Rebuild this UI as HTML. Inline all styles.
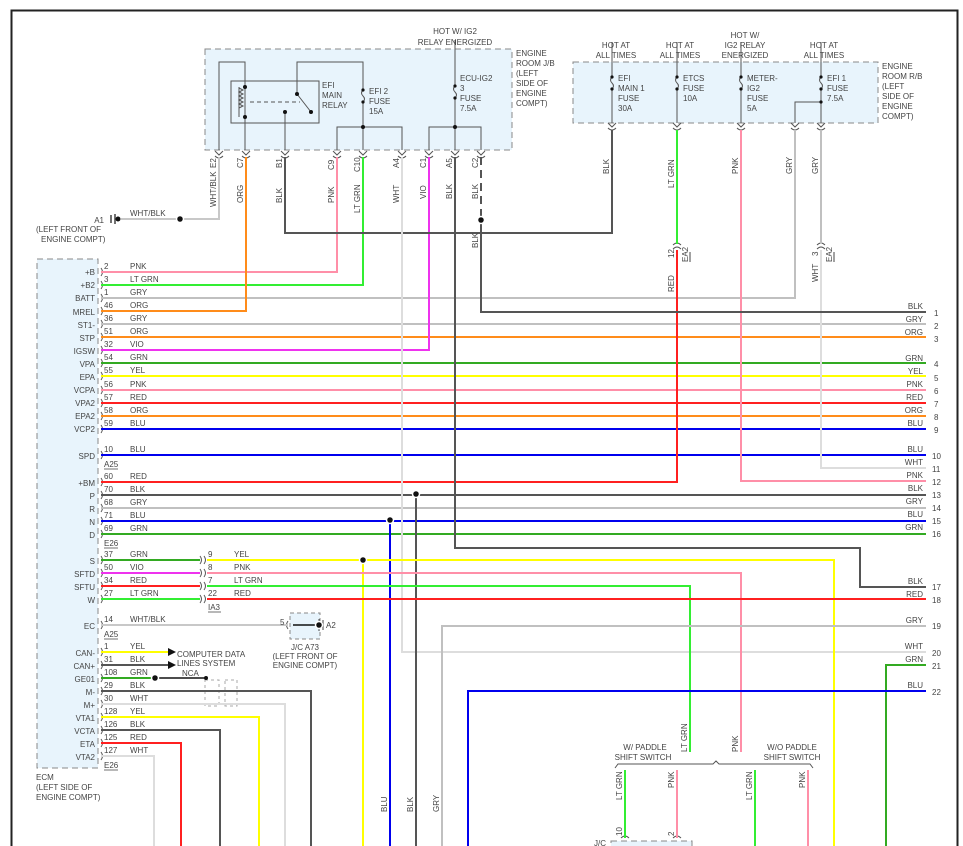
<!DOCTYPE html>
<html><head><meta charset="utf-8"><style>
html,body{margin:0;padding:0;background:#fff}
svg{display:block}
text{font-family:"Liberation Sans",sans-serif;font-size:8px;fill:#444}
</style></head><body>
<svg width="963" height="846" viewBox="0 0 963 846" xmlns="http://www.w3.org/2000/svg">
<rect width="963" height="846" fill="#fff"/>
<path d="M11.5 846 V10.5 H957.5 V846" fill="none" stroke="#222" stroke-width="2"/>

<rect x="205" y="49" width="307" height="101" fill="#e8f4fc" stroke="#888" stroke-dasharray="6,4"/>
<rect x="573" y="62" width="305" height="61" fill="#e8f4fc" stroke="#888" stroke-dasharray="6,4"/>
<rect x="37" y="259" width="61" height="509" fill="#e8f4fc" stroke="#888" stroke-dasharray="6,4"/>
<rect x="290" y="613" width="30" height="26" fill="#e8f4fc" stroke="#888" stroke-dasharray="4,3"/>
<rect x="611" y="841" width="81" height="10" fill="#e8f4fc" stroke="#888" stroke-dasharray="6,4"/>
<rect x="205" y="680" width="14" height="26" fill="none" stroke="#aaa" stroke-dasharray="3,3"/>
<rect x="225" y="680" width="12" height="26" fill="none" stroke="#aaa" stroke-dasharray="3,3"/>

<g fill="none" stroke="#555" stroke-width="1">
<rect x="231" y="81" width="88" height="42"/>
<path d="M219 150 V62 H245 V150"/>
<path d="M245 87 V117 M239 87 V117"/>
<path d="M239 88 l4 2 -4 2 4 2 -4 2 4 2 -4 2 4 2 -4 2 4 2 -4 2"/>
<path d="M250 102 H300" stroke-dasharray="4,3"/>
<path d="M297 94 L311 112"/>
<path d="M285 112 V150"/>
<path d="M297 94 V62 H363 V90"/>
<path d="M363 90 q-3 3 0 6 q3 3 0 6 M363 102 V127"/>
<path d="M337 150 V127 H402 V150 M363 127 V150"/>
<path d="M455 40 V86 M455 86 q-3 3 0 6 q3 3 0 6 M455 98 V127"/>
<path d="M429 150 V127 H481 V150 M455 127 V150"/>
<path d="M612 42 V77 M612 77 q-3 3 0 6 q3 3 0 6 M612 89 V123"/>
<path d="M677 42 V77 M677 77 q-3 3 0 6 q3 3 0 6 M677 89 V123"/>
<path d="M741 42 V77 M741 77 q-3 3 0 6 q3 3 0 6 M741 89 V123"/>
<path d="M821 42 V77 M821 77 q-3 3 0 6 q3 3 0 6 M821 89 V123"/>
<path d="M795 123 V102 H821"/>
</g>
<g fill="#111">
<circle cx="245" cy="87" r="2"/><circle cx="245" cy="117" r="2"/><circle cx="297" cy="94" r="2"/><circle cx="311" cy="112" r="2"/><circle cx="285" cy="112" r="2"/>
<circle cx="363" cy="90" r="1.6"/><circle cx="363" cy="102" r="1.6"/><circle cx="363" cy="127" r="2"/><circle cx="455" cy="127" r="2"/><circle cx="455" cy="86" r="1.6"/><circle cx="455" cy="98" r="1.6"/>
<circle cx="612" cy="77" r="1.6"/><circle cx="612" cy="89" r="1.6"/><circle cx="677" cy="77" r="1.6"/><circle cx="677" cy="89" r="1.6"/><circle cx="741" cy="77" r="1.6"/><circle cx="741" cy="89" r="1.6"/><circle cx="821" cy="77" r="1.6"/><circle cx="821" cy="89" r="1.6"/><circle cx="821" cy="102" r="1.6"/>
</g>

<g fill="none" stroke="#555" stroke-width="1">
<path d="M215 151 l4 4 4-4 M215 156 q4 4 8 0 M242 151 l4 4 4-4 M242 156 q4 4 8 0 M281 151 l4 4 4-4 M281 156 q4 4 8 0 M333 151 l4 4 4-4 M333 156 q4 4 8 0 M359 151 l4 4 4-4 M359 156 q4 4 8 0 M398 151 l4 4 4-4 M398 156 q4 4 8 0 M425 151 l4 4 4-4 M425 156 q4 4 8 0 M451 151 l4 4 4-4 M451 156 q4 4 8 0 M477 151 l4 4 4-4 M477 156 q4 4 8 0"/>
<path d="M608 123 l4 4 4-4 M608 128 q4 4 8 0 M673 123 l4 4 4-4 M673 128 q4 4 8 0 M737 123 l4 4 4-4 M737 128 q4 4 8 0 M791 123 l4 4 4-4 M791 128 q4 4 8 0 M817 123 l4 4 4-4 M817 128 q4 4 8 0"/>
<path d="M673 245 q4 -4 8 0 M673 249 q4 -4 8 0 M817 245 q4 -4 8 0 M817 249 q4 -4 8 0"/>
<path d="M101 268 q3 4 0 8 M101 281 q3 4 0 8 M101 294 q3 4 0 8 M101 307 q3 4 0 8 M101 320 q3 4 0 8 M101 333 q3 4 0 8 M101 346 q3 4 0 8 M101 359 q3 4 0 8 M101 372 q3 4 0 8 M101 386 q3 4 0 8 M101 399 q3 4 0 8 M101 412 q3 4 0 8 M101 425 q3 4 0 8 M101 451 q3 4 0 8 M101 478 q3 4 0 8 M101 491 q3 4 0 8 M101 504 q3 4 0 8 M101 517 q3 4 0 8 M101 530 q3 4 0 8 M101 556 q3 4 0 8 M101 569 q3 4 0 8 M101 582 q3 4 0 8 M101 595 q3 4 0 8 M101 621 q3 4 0 8 M101 648 q3 4 0 8 M101 661 q3 4 0 8 M101 674 q3 4 0 8 M101 687 q3 4 0 8 M101 700 q3 4 0 8 M101 713 q3 4 0 8 M101 726 q3 4 0 8 M101 739 q3 4 0 8 M101 752 q3 4 0 8"/>
<path d="M200 556 q3 4 0 8 M204 556 q3 4 0 8 M200 569 q3 4 0 8 M204 569 q3 4 0 8 M200 582 q3 4 0 8 M204 582 q3 4 0 8 M200 595 q3 4 0 8 M204 595 q3 4 0 8"/>
<path d="M288 621 q-3 4 0 8 M621 838 q4 -4 8 0 M673 838 q4 -4 8 0"/>
</g>
<path d="M111 215 V223 M115 214 V224" stroke="#444" stroke-width="1.5"/><circle cx="118" cy="219" r="2.5" fill="#111"/>

<g fill="none" stroke-width="2">
<path d="M101 272 H337 V157" stroke="#ff8fa8"/>
<path d="M101 285 H363 V157" stroke="#33ee33"/>
<path d="M101 298 H795 V130" stroke="#c0c0c0"/>
<path d="M101 311 H246 V157" stroke="#ff8c1a"/>
<path d="M101 324 H926" stroke="#c0c0c0"/>
<path d="M101 337 H926" stroke="#ff8c1a"/>
<path d="M101 350 H429 V157" stroke="#ee33ee"/>
<path d="M101 363 H926" stroke="#33aa22"/>
<path d="M101 376 H926" stroke="#ffff00"/>
<path d="M101 390 H926" stroke="#ff8fa8"/>
<path d="M101 403 H926" stroke="#ff2020"/>
<path d="M101 416 H926" stroke="#ff8c1a"/>
<path d="M101 429 H926" stroke="#0000ee"/>
<path d="M101 455 H926" stroke="#0000ee"/>
<path d="M101 482 H677 V250" stroke="#ff2020"/>
<path d="M677 130 V244" stroke="#33ee33"/>
<path d="M741 130 V481 H926" stroke="#ff8fa8"/>
<path d="M821 130 V244" stroke="#c0c0c0"/>
<path d="M821 250 V468 H926" stroke="#ddd"/>
<path d="M101 495 H926" stroke="#555"/>
<path d="M101 508 H926" stroke="#c0c0c0"/>
<path d="M101 521 H926" stroke="#0000ee"/>
<path d="M101 534 H926" stroke="#33aa22"/>
<path d="M612 130 V233 H285 V157" stroke="#555"/>
<path d="M481 157 V220" stroke="#555" stroke-dasharray="8,5"/>
<path d="M481 220 V312 H926" stroke="#555"/>
<path d="M455 157 V548 H860 V587 H926" stroke="#555"/>
<path d="M402 157 V652 H926" stroke="#ddd"/>
<path d="M219 157 V219 H121" stroke="#c8c8c8"/>
<path d="M416 494 V846" stroke="#555"/>
<path d="M390 520 V846" stroke="#0000ee"/>
<path d="M101 560 H200" stroke="#33aa22"/>
<path d="M207 560 H834 V846" stroke="#ffff00"/>
<path d="M363 560 V846" stroke="#ffff00"/>
<path d="M101 573 H200" stroke="#ee33ee"/>
<path d="M207 573 H741 V752" stroke="#ff8fa8"/>
<path d="M101 586 H200" stroke="#ff2020"/>
<path d="M207 586 H690 V752" stroke="#33ee33"/>
<path d="M101 599 H200" stroke="#33ee33"/>
<path d="M207 599 H926" stroke="#ff2020"/>
<path d="M101 625 H288" stroke="#c8c8c8"/>
<path d="M442 846 V626 H926" stroke="#c0c0c0"/>
<path d="M886 846 V665 H926" stroke="#33aa22"/>
<path d="M468 846 V691 H926" stroke="#0000ee"/>
<path d="M101 652 H168" stroke="#ffff00"/>
<path d="M101 665 H168" stroke="#555"/>
<path d="M101 678 H153" stroke="#33aa22"/>
<path d="M101 691 H311 V846" stroke="#555"/>
<path d="M101 704 H285 V846" stroke="#ddd"/>
<path d="M101 717 H259 V846" stroke="#ffff00"/>
<path d="M101 730 H220 V846" stroke="#555"/>
<path d="M101 743 H181 V846" stroke="#ff2020"/>
<path d="M101 756 H154 V846" stroke="#ddd"/>
<path d="M625 770 V838" stroke="#33ee33"/>
<path d="M677 770 V838" stroke="#ff8fa8"/>
<path d="M755 770 V846" stroke="#33ee33"/>
<path d="M808 770 V846" stroke="#ff8fa8"/>
</g>
<path d="M158 678 H206 M293 625 H319" stroke="#111" stroke-width="1.5"/>
<path d="M168 648 l8 4 -8 4z M168 661 l8 4 -8 4z" fill="#111"/>
<path d="M615 768 l3 -4 H713 l3 -3 3 3 H810 l3 4" fill="none" stroke="#555"/>
<path d="M319 619 V631 M323 620 V630" stroke="#444"/>

<g fill="#111" stroke="#fff" stroke-width="1.5">
<circle cx="481" cy="220" r="3.5"/><circle cx="180" cy="219" r="3.5"/><circle cx="416" cy="494" r="3.5"/><circle cx="390" cy="520" r="3.5"/><circle cx="363" cy="560" r="3.5"/><circle cx="155" cy="678" r="3.5"/><circle cx="319" cy="625" r="3.5"/>
</g>
<circle cx="206" cy="678" r="2" fill="#111"/>

<text x="455" y="34" text-anchor="middle">HOT W/ IG2</text>
<text x="455" y="45" text-anchor="middle">RELAY ENERGIZED</text>
<text x="516" y="56">ENGINE</text><text x="516" y="66">ROOM J/B</text><text x="516" y="76">(LEFT</text><text x="516" y="86">SIDE OF</text><text x="516" y="96">ENGINE</text><text x="516" y="106">COMPT)</text>
<text x="322" y="88">EFI</text><text x="322" y="98">MAIN</text><text x="322" y="108">RELAY</text>
<text x="369" y="94">EFI 2</text><text x="369" y="104">FUSE</text><text x="369" y="114">15A</text>
<text x="460" y="81">ECU-IG2</text><text x="460" y="91">3</text><text x="460" y="101">FUSE</text><text x="460" y="111">7.5A</text>
<text x="616" y="48" text-anchor="middle">HOT AT</text><text x="616" y="58" text-anchor="middle">ALL TIMES</text>
<text x="680" y="48" text-anchor="middle">HOT AT</text><text x="680" y="58" text-anchor="middle">ALL TIMES</text>
<text x="745" y="38" text-anchor="middle">HOT W/</text><text x="745" y="48" text-anchor="middle">IG2 RELAY</text><text x="745" y="58" text-anchor="middle">ENERGIZED</text>
<text x="824" y="48" text-anchor="middle">HOT AT</text><text x="824" y="58" text-anchor="middle">ALL TIMES</text>
<text x="882" y="69">ENGINE</text><text x="882" y="79">ROOM R/B</text><text x="882" y="89">(LEFT</text><text x="882" y="99">SIDE OF</text><text x="882" y="109">ENGINE</text><text x="882" y="119">COMPT)</text>
<text x="618" y="81">EFI</text><text x="618" y="91">MAIN 1</text><text x="618" y="101">FUSE</text><text x="618" y="111">30A</text>
<text x="683" y="81">ETCS</text><text x="683" y="91">FUSE</text><text x="683" y="101">10A</text>
<text x="747" y="81">METER-</text><text x="747" y="91">IG2</text><text x="747" y="101">FUSE</text><text x="747" y="111">5A</text>
<text x="827" y="81">EFI 1</text><text x="827" y="91">FUSE</text><text x="827" y="101">7.5A</text>

<g>
<text transform="translate(216,168) rotate(-90)">E2</text><text transform="translate(216,207) rotate(-90)">WHT/BLK</text>
<text transform="translate(243,168) rotate(-90)">C7</text><text transform="translate(243,203) rotate(-90)">ORG</text>
<text transform="translate(282,168) rotate(-90)">B1</text><text transform="translate(282,203) rotate(-90)">BLK</text>
<text transform="translate(334,170) rotate(-90)">C9</text><text transform="translate(334,203) rotate(-90)">PNK</text>
<text transform="translate(360,172) rotate(-90)">C10</text><text transform="translate(360,213) rotate(-90)">LT GRN</text>
<text transform="translate(399,168) rotate(-90)">A4</text><text transform="translate(399,203) rotate(-90)">WHT</text>
<text transform="translate(426,168) rotate(-90)">C1</text><text transform="translate(426,199) rotate(-90)">VIO</text>
<text transform="translate(452,168) rotate(-90)">A5</text><text transform="translate(452,199) rotate(-90)">BLK</text>
<text transform="translate(478,168) rotate(-90)">C2</text><text transform="translate(478,199) rotate(-90)">BLK</text>
<text transform="translate(478,248) rotate(-90)">BLK</text>
<text transform="translate(609,174) rotate(-90)">BLK</text>
<text transform="translate(674,188) rotate(-90)">LT GRN</text>
<text transform="translate(738,174) rotate(-90)">PNK</text>
<text transform="translate(792,174) rotate(-90)">GRY</text>
<text transform="translate(818,174) rotate(-90)">GRY</text>
<text transform="translate(674,258) rotate(-90)">12</text><text transform="translate(688,262) rotate(-90)">EA2</text>
<text transform="translate(674,292) rotate(-90)">RED</text>
<text transform="translate(818,256) rotate(-90)">3</text><text transform="translate(832,262) rotate(-90)">EA2</text>
<text transform="translate(818,282) rotate(-90)">WHT</text>
<text transform="translate(387,812) rotate(-90)">BLU</text>
<text transform="translate(413,812) rotate(-90)">BLK</text>
<text transform="translate(439,812) rotate(-90)">GRY</text>
<text transform="translate(687,752) rotate(-90)">LT GRN</text>
<text transform="translate(738,752) rotate(-90)">PNK</text>
<text transform="translate(622,800) rotate(-90)">LT GRN</text>
<text transform="translate(674,788) rotate(-90)">PNK</text>
<text transform="translate(752,800) rotate(-90)">LT GRN</text>
<text transform="translate(805,788) rotate(-90)">PNK</text>
<text transform="translate(622,836) rotate(-90)">10</text>
<text transform="translate(674,836) rotate(-90)">2</text>
</g>
<path d="M690 252 V262 M834 252 V262" stroke="#444"/>

<text x="104" y="223" text-anchor="end">A1</text>
<text x="130" y="216">WHT/BLK</text>
<text x="36" y="232">(LEFT FRONT OF</text><text x="41" y="242">ENGINE COMPT)</text>

<g text-anchor="end">
<text x="95" y="275">+B</text><text x="95" y="288">+B2</text><text x="95" y="301">BATT</text><text x="95" y="315">MREL</text><text x="95" y="328">ST1-</text><text x="95" y="341">STP</text><text x="95" y="354">IGSW</text><text x="95" y="367">VPA</text><text x="95" y="380">EPA</text><text x="95" y="393">VCPA</text><text x="95" y="406">VPA2</text><text x="95" y="419">EPA2</text><text x="95" y="432">VCP2</text><text x="95" y="459">SPD</text><text x="95" y="486">+BM</text><text x="95" y="499">P</text><text x="95" y="512">R</text><text x="95" y="525">N</text><text x="95" y="538">D</text>
<text x="95" y="564">S</text><text x="95" y="577">SFTD</text><text x="95" y="590">SFTU</text><text x="95" y="603">W</text><text x="95" y="629">EC</text><text x="95" y="656">CAN-</text><text x="95" y="669">CAN+</text><text x="95" y="682">GE01</text><text x="95" y="695">M-</text><text x="95" y="708">M+</text><text x="95" y="721">VTA1</text><text x="95" y="734">VCTA</text><text x="95" y="747">ETA</text><text x="95" y="760">VTA2</text>
</g>
<g>
<text x="104" y="269">2</text><text x="130" y="269">PNK</text>
<text x="104" y="282">3</text><text x="130" y="282">LT GRN</text>
<text x="104" y="295">1</text><text x="130" y="295">GRY</text>
<text x="104" y="308">46</text><text x="130" y="308">ORG</text>
<text x="104" y="321">36</text><text x="130" y="321">GRY</text>
<text x="104" y="334">51</text><text x="130" y="334">ORG</text>
<text x="104" y="347">32</text><text x="130" y="347">VIO</text>
<text x="104" y="360">54</text><text x="130" y="360">GRN</text>
<text x="104" y="373">55</text><text x="130" y="373">YEL</text>
<text x="104" y="387">56</text><text x="130" y="387">PNK</text>
<text x="104" y="400">57</text><text x="130" y="400">RED</text>
<text x="104" y="413">58</text><text x="130" y="413">ORG</text>
<text x="104" y="426">59</text><text x="130" y="426">BLU</text>
<text x="104" y="452">10</text><text x="130" y="452">BLU</text>
<text x="104" y="467">A25</text>
<text x="104" y="479">60</text><text x="130" y="479">RED</text>
<text x="104" y="492">70</text><text x="130" y="492">BLK</text>
<text x="104" y="505">68</text><text x="130" y="505">GRY</text>
<text x="104" y="518">71</text><text x="130" y="518">BLU</text>
<text x="104" y="531">69</text><text x="130" y="531">GRN</text>
<text x="104" y="546">E26</text>
<text x="104" y="557">37</text><text x="130" y="557">GRN</text><text x="208" y="557">9</text><text x="234" y="557">YEL</text>
<text x="104" y="570">50</text><text x="130" y="570">VIO</text><text x="208" y="570">8</text><text x="234" y="570">PNK</text>
<text x="104" y="583">34</text><text x="130" y="583">RED</text><text x="208" y="583">7</text><text x="234" y="583">LT GRN</text>
<text x="104" y="596">27</text><text x="130" y="596">LT GRN</text><text x="208" y="596">22</text><text x="234" y="596">RED</text>
<text x="208" y="610">IA3</text>
<text x="104" y="622">14</text><text x="130" y="622">WHT/BLK</text>
<text x="104" y="637">A25</text>
<text x="280" y="625">5</text><text x="326" y="628">A2</text>
<text x="305" y="650" text-anchor="middle">J/C A73</text>
<text x="305" y="659" text-anchor="middle">(LEFT FRONT OF</text>
<text x="305" y="668" text-anchor="middle">ENGINE COMPT)</text>
<text x="104" y="649">1</text><text x="130" y="649">YEL</text>
<text x="177" y="657">COMPUTER DATA</text><text x="177" y="666">LINES SYSTEM</text>
<text x="104" y="662">31</text><text x="130" y="662">BLK</text>
<text x="104" y="675">108</text><text x="130" y="675">GRN</text><text x="182" y="676">NCA</text>
<text x="104" y="688">29</text><text x="130" y="688">BLK</text>
<text x="104" y="701">30</text><text x="130" y="701">WHT</text>
<text x="104" y="714">128</text><text x="130" y="714">YEL</text>
<text x="104" y="727">126</text><text x="130" y="727">BLK</text>
<text x="104" y="740">125</text><text x="130" y="740">RED</text>
<text x="104" y="753">127</text><text x="130" y="753">WHT</text>
<text x="104" y="768">E26</text>
<text x="36" y="780">ECM</text><text x="36" y="790">(LEFT SIDE OF</text><text x="36" y="800">ENGINE COMPT)</text>
<text x="594" y="846">J/C</text>
</g>
<path d="M104 469 H118 M104 548 H118 M208 612 H221 M104 639 H118 M104 770 H118" stroke="#444" stroke-width="0.8"/>

<text x="645" y="750" text-anchor="middle">W/ PADDLE</text><text x="643" y="760" text-anchor="middle">SHIFT SWITCH</text>
<text x="792" y="750" text-anchor="middle">W/O PADDLE</text><text x="792" y="760" text-anchor="middle">SHIFT SWITCH</text>

<g text-anchor="end">
<text x="923" y="309">BLK</text><text x="923" y="322">GRY</text><text x="923" y="335">ORG</text><text x="923" y="361">GRN</text><text x="923" y="374">YEL</text><text x="923" y="387">PNK</text><text x="923" y="400">RED</text><text x="923" y="413">ORG</text><text x="923" y="426">BLU</text><text x="923" y="452">BLU</text><text x="923" y="465">WHT</text><text x="923" y="478">PNK</text><text x="923" y="491">BLK</text><text x="923" y="504">GRY</text><text x="923" y="517">BLU</text><text x="923" y="530">GRN</text><text x="923" y="584">BLK</text><text x="923" y="597">RED</text><text x="923" y="623">GRY</text><text x="923" y="649">WHT</text><text x="923" y="662">GRN</text><text x="923" y="688">BLU</text>
</g>
<g>
<text x="934" y="316">1</text><text x="934" y="329">2</text><text x="934" y="342">3</text><text x="934" y="367">4</text><text x="934" y="381">5</text><text x="934" y="394">6</text><text x="934" y="407">7</text><text x="934" y="420">8</text><text x="934" y="433">9</text><text x="932" y="459">10</text><text x="932" y="472">11</text><text x="932" y="485">12</text><text x="932" y="498">13</text><text x="932" y="511">14</text><text x="932" y="524">15</text><text x="932" y="537">16</text><text x="932" y="590">17</text><text x="932" y="603">18</text><text x="932" y="629">19</text><text x="932" y="656">20</text><text x="932" y="669">21</text><text x="932" y="695">22</text>
</g>
</svg>
</body></html>
